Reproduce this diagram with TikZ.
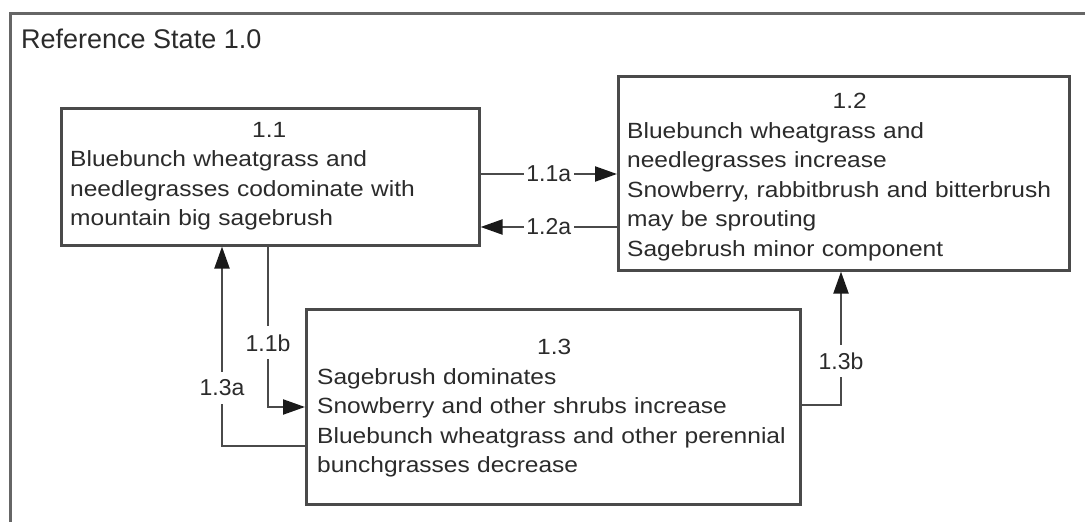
\documentclass[tikz,border=0pt]{standalone}
\usepackage{fontspec}
\setmainfont{Liberation Sans}
\newfontfamily\bodyfont[FakeStretch=1.115]{Liberation Sans}
\usetikzlibrary{arrows.meta,calc}
\definecolor{ln}{HTML}{4A4A4A}
\definecolor{fr}{HTML}{666666}
\definecolor{tx}{HTML}{2B2B2B}
\definecolor{tip}{HTML}{1A1A1A}
\begin{document}
\begin{tikzpicture}[x=1pt,y=-1pt,
  box/.style={draw=ln,line width=2.6pt,anchor=north west,inner sep=0pt,fill=white},
  body/.style={anchor=north west,inner sep=0pt,align=left,text=tx,font=\bodyfont\fontsize{22}{29.5}\selectfont},
  conn/.style={draw=ln,line width=2.2pt,-{Triangle[length=22pt,width=15pt,color=tip]}},
  lbl/.style={fill=white,text=tx,inner xsep=2.5pt,inner ysep=8pt,font=\fontsize{23}{27}\selectfont}]
\useasboundingbox (0,0) rectangle (1085,522);
\fill[white] (0,0) rectangle (1085,522);
\coordinate (fb) at (10,522);
\coordinate (frt) at (1085,13);
\draw[fr,line width=3pt] (fb) |- (frt);
\node[anchor=base west,inner sep=0pt,text=tx,font=\fontsize{27}{31}\selectfont] (title) at (21,48) {Reference State 1.0};

\node[box,minimum width=418pt,minimum height=137pt] (s11) at (60,107) {};
\node[box,minimum width=451pt,minimum height=194pt] (s12) at (617,75) {};
\node[box,minimum width=494pt,minimum height=195pt] (s13) at (305,308) {};

\node[body,text width=398pt] (t11) at (70,122) {\makebox[\linewidth][c]{1.1}\\Bluebunch wheatgrass and\\needlegrasses codominate with\\mountain big sagebrush};
\node[body,text width=431pt] (t12) at (627,93) {\makebox[\linewidth][c]{\hspace{14pt}1.2}\\Bluebunch wheatgrass and\\needlegrasses increase\\Snowberry, rabbitbrush and bitterbrush\\may be sprouting\\Sagebrush minor component};
\node[body,text width=474pt] (t13) at (317,339) {\makebox[\linewidth][c]{1.3}\\Sagebrush dominates\\Snowberry and other shrubs increase\\Bluebunch wheatgrass and other perennial\\bunchgrasses decrease};

\draw[conn] ($(s11.north east)+(0,67)$) -- node[lbl]{1.1a} ($(s12.north west)+(0,99)$);
\draw[conn] ($(s12.north west)+(0,152)$) -- node[lbl]{1.2a} ($(s11.north east)+(0,120)$);
\draw[conn] ($(s11.south west)+(208,0)$) |- node[lbl,pos=0.3]{1.1b} ($(s13.north west)+(0,99)$);
\draw[conn] ($(s13.north west)+(0,138)$) -| node[lbl,pos=0.646]{1.3a} ($(s11.south west)+(162,0)$);
\draw[conn] ($(s13.north east)+(0,97)$) -| node[lbl,pos=0.665]{1.3b} ($(s12.south west)+(224,0)$);
\end{tikzpicture}
\end{document}
